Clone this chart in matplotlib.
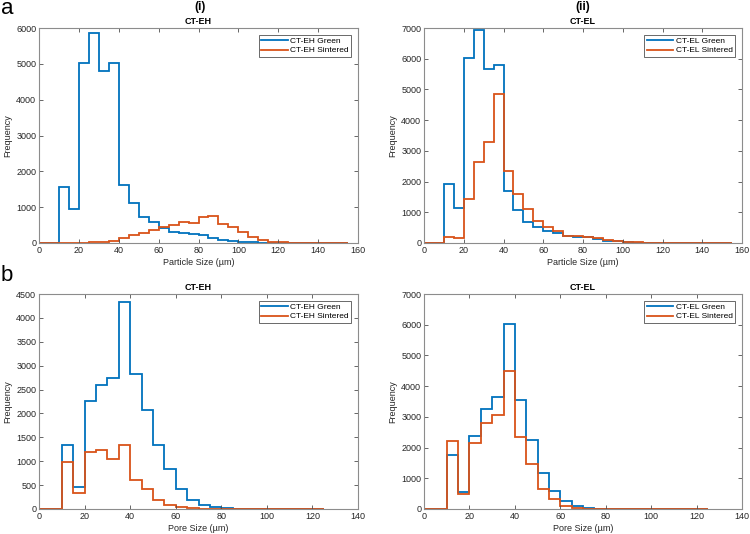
import numpy as np
import matplotlib.pyplot as plt

plt.rcParams["font.family"] = ["Liberation Sans", "DejaVu Sans"]

# bin edges (µm)
particle_edges = np.arange(0, 160, 5)   # 0..155
pore_edges = np.arange(0, 130, 5)       # 0..125

# (a) particle size, CT-EH
eh_part_green = [0, 0, 1550, 950, 5030, 5870, 4800, 5020, 1620, 1120, 730, 600, 430, 320,
                 280, 250, 220, 130, 90, 60, 30, 15, 5, 2, 0, 0, 0, 0, 0, 0, 0]
eh_part_sint = [0, 0, 0, 0, 10, 15, 30, 60, 150, 220, 290, 370, 460, 510, 580, 550, 720,
                760, 520, 450, 300, 160, 80, 40, 15, 5, 2, 0, 0, 0, 0]

# (a) particle size, CT-EL
el_part_green = [0, 0, 1930, 1150, 6030, 6930, 5650, 5800, 1680, 1080, 690, 520, 390, 320,
                 240, 210, 190, 130, 80, 50, 30, 10, 5, 0, 0, 0, 0, 0, 0, 0, 0]
el_part_sint = [0, 0, 190, 150, 1440, 2650, 3280, 4860, 2350, 1600, 1110, 730, 520, 390,
                240, 220, 210, 150, 100, 70, 40, 20, 10, 5, 0, 0, 0, 0, 0, 0, 0]

# (b) pore size, CT-EH
eh_pore_green = [0, 0, 1350, 470, 2260, 2590, 2750, 4330, 2820, 2070, 1340, 840, 410, 190,
                 90, 40, 15, 5, 0, 0, 0, 0, 0, 0, 0]
eh_pore_sint = [0, 0, 990, 340, 1200, 1240, 1040, 1350, 610, 420, 180, 80, 40, 15, 5, 2,
                0, 0, 0, 0, 0, 0, 0, 0, 0]

# (b) pore size, CT-EL
el_pore_green = [0, 0, 1750, 560, 2380, 3270, 3650, 6020, 3540, 2250, 1170, 590, 250, 100,
                 30, 10, 5, 0, 0, 0, 0, 0, 0, 0, 0]
el_pore_sint = [0, 0, 2220, 500, 2150, 2810, 3050, 4490, 2360, 1450, 650, 310, 100, 40, 15,
                5, 0, 0, 0, 0, 0, 0, 0, 0, 0]

blue = "#0072BD"
orange = "#D95319"
grey = "#4d4d4d"

W, H = 750, 534
fig = plt.figure(figsize=(W / 100, H / 100), dpi=100)


def px_axes(left, top, right, bottom):
    return fig.add_axes([left / W, 1 - bottom / H, (right - left) / W, (bottom - top) / H])


panels = [
    (px_axes(39, 28, 358, 243), particle_edges, eh_part_green, eh_part_sint, "CT-EH",
     "Particle Size (µm)", 160, 6000, 1000, 20),
    (px_axes(424, 28, 742, 243), particle_edges, el_part_green, el_part_sint, "CT-EL",
     "Particle Size (µm)", 160, 7000, 1000, 20),
    (px_axes(39, 294, 358, 509), pore_edges, eh_pore_green, eh_pore_sint, "CT-EH",
     "Pore Size (µm)", 140, 4500, 500, 20),
    (px_axes(424, 294, 742, 509), pore_edges, el_pore_green, el_pore_sint, "CT-EL",
     "Pore Size (µm)", 140, 7000, 1000, 20),
]

for ax, edges, green, sint, name, xlabel, xmax, ymax, ystep, xstep in panels:
    ax.stairs(green, edges, color=blue, lw=1.3, label=name + " Green")
    ax.stairs(sint, edges, color=orange, lw=1.3, label=name + " Sintered")
    ax.set_xlim(0, xmax)
    ax.set_ylim(0, ymax)
    ax.set_xticks(np.arange(0, xmax + 1, xstep))
    ax.set_yticks(np.arange(0, ymax + 1, ystep))
    ax.tick_params(direction="in", top=True, right=True, labelsize=6.5, colors=grey,
                   length=3, width=0.6, pad=2, labelcolor="#262626")
    for s in ax.spines.values():
        s.set_color("#8c8c8c")
        s.set_linewidth(0.8)
    ax.set_title(name, fontsize=6.5, fontweight="bold", pad=3)
    ax.set_xlabel(xlabel, fontsize=6.5, color="#262626", labelpad=2)
    ax.set_ylabel("Frequency", fontsize=6.5, color="#262626", labelpad=3)
    leg = ax.legend(loc="upper right", fontsize=6, frameon=True, fancybox=False,
                    handlelength=3.2, borderpad=0.3, labelspacing=0.2, handletextpad=0.3,
                    borderaxespad=0.8)
    leg.get_frame().set_edgecolor("#262626")
    leg.get_frame().set_linewidth(0.6)

fig.text(200 / W, 1 - 7 / H, "(i)", fontsize=8.5, fontweight="bold", ha="center", va="center")
fig.text(583 / W, 1 - 7 / H, "(ii)", fontsize=8.5, fontweight="bold", ha="center", va="center")
fig.text(1 / W, 1 - 14 / H, "a", fontsize=16, ha="left", va="baseline")
fig.text(1 / W, 1 - 281 / H, "b", fontsize=16, ha="left", va="baseline")

fig.savefig("out.png", dpi=100)
